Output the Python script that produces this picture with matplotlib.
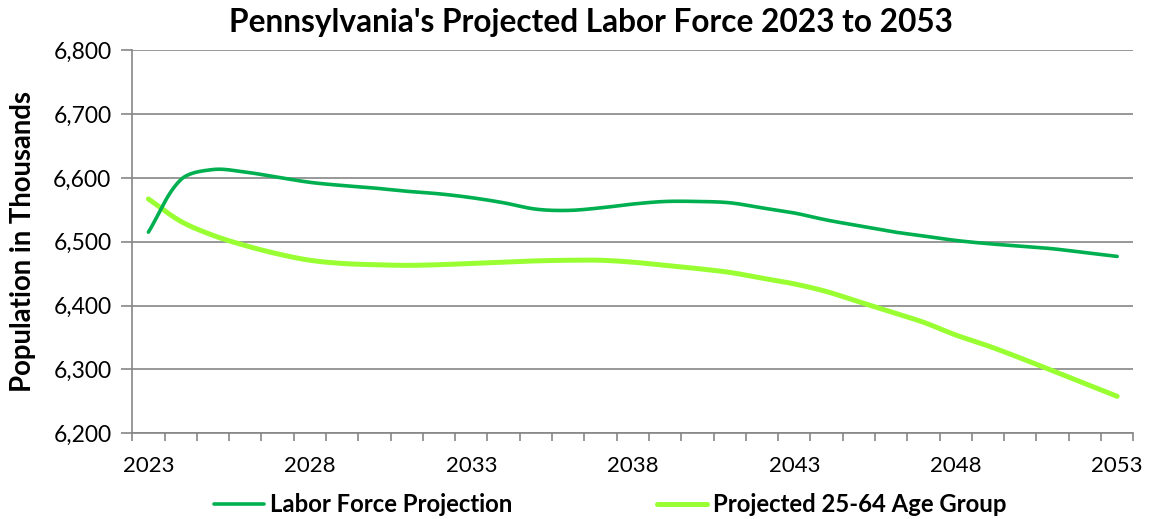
import matplotlib
matplotlib.use("Agg")
import matplotlib.pyplot as plt
import numpy as np
from matplotlib.ticker import FuncFormatter, FixedLocator

plt.rcParams["font.family"] = ["Lato", "DejaVu Sans"]

years = list(range(2023, 2054))
labor_force = [6515, 6597, 6613, 6609, 6601, 6593, 6588, 6584, 6579, 6575,
               6569, 6561, 6551, 6549, 6553, 6559, 6563, 6563, 6561, 6553,
               6545, 6534, 6525, 6516, 6509, 6502, 6497, 6493, 6489, 6483,
               6477]
age_25_64 = [6567, 6532, 6510, 6494, 6481, 6471, 6466, 6464, 6463, 6464,
             6466, 6468, 6470, 6471, 6471, 6468, 6463, 6458, 6452, 6443,
             6434, 6422, 6406, 6390, 6374, 6354, 6337, 6318, 6298, 6278,
             6258]
series_names = ["Labor Force Projection", "Projected 25-64 Age Group"]
year_labels = [2023, 2028, 2033, 2038, 2043, 2048, 2053]

DARK = "#00B050"
LIGHT = "#99FF33"
GRID = "#868686"


def smooth(ax, x, y, steps=24):
    """Smoothed line like a spreadsheet: bezier arms built in screen space,
    shortened on the side of the shorter segment."""
    fig.canvas.draw()
    pts = ax.transData.transform(np.column_stack([x, y]).astype(float))
    n = len(pts)
    f = 1 / 6
    arm_in = np.zeros_like(pts)
    arm_out = np.zeros_like(pts)
    for i in range(n):
        p0 = pts[max(i - 1, 0)]
        p2 = pts[min(i + 1, n - 1)]
        tan = p2 - p0
        d01 = np.hypot(*(pts[i] - p0))
        d12 = np.hypot(*(p2 - pts[i]))
        tot = d01 + d12
        if tot == 0:
            continue
        arm_in[i] = tan * f * 2 * d01 / tot
        arm_out[i] = tan * f * 2 * d12 / tot
    t = np.linspace(0, 1, steps + 1)[1:, None]
    out = [pts[0]]
    for i in range(n - 1):
        p1, p2 = pts[i], pts[i + 1]
        c1 = p1 + arm_out[i]
        c2 = p2 - arm_in[i + 1]
        seg = ((1 - t) ** 3) * p1 + 3 * ((1 - t) ** 2) * t * c1 \
            + 3 * (1 - t) * t ** 2 * c2 + t ** 3 * p2
        out.extend(seg)
    out = ax.transData.inverted().transform(np.array(out))
    return out[:, 0], out[:, 1]


fig = plt.figure(figsize=(11.5, 5.19), dpi=100)
ax = fig.add_axes([0.115, 0.165, 0.8705, 0.7385])

ax.set_xlim(years[0] - 0.5, years[-1] + 0.5)
ax.set_ylim(6200, 6800)

sx, sy = smooth(ax, years, labor_force)
ax.plot(sx, sy, color=DARK, lw=2.6, solid_capstyle="round",
        label=series_names[0], zorder=3)
sx, sy = smooth(ax, years, age_25_64)
ax.plot(sx, sy, color=LIGHT, lw=3.6, solid_capstyle="round",
        label=series_names[1], zorder=2)

ax.set_xlim(years[0] - 0.5, years[-1] + 0.5)
ax.set_ylim(6200, 6800)
ax.set_yticks(np.arange(6200, 6801, 100))
ax.yaxis.set_major_formatter(FuncFormatter(lambda v, p: f"{int(v):,}"))
ax.grid(axis="y", color=GRID, lw=1.2)
ax.set_axisbelow(True)

# tick marks between categories, labels every fifth year
ax.xaxis.set_major_locator(FixedLocator(np.arange(years[0] - 0.5, years[-1] + 1)))
ax.xaxis.set_minor_locator(FixedLocator(year_labels))
ax.tick_params(axis="x", which="major", length=6, width=1.2, color=GRID,
               labelbottom=False)
ax.tick_params(axis="x", which="minor", length=0, labelsize=16, pad=16)
ax.xaxis.set_minor_formatter(FuncFormatter(lambda v, p: f"{int(v)}"))
ax.tick_params(axis="y", length=8, width=1.2, color=GRID, labelsize=16.5, pad=7)

for side in ("top", "right"):
    ax.spines[side].set_visible(False)
for side in ("left", "bottom"):
    ax.spines[side].set_color(GRID)
    ax.spines[side].set_linewidth(1.2)

fig.text(0.5135, 0.957, "Pennsylvania's Projected Labor Force 2023 to 2053",
         ha="center", va="center", fontsize=22.8, fontweight="bold")
fig.text(0.020, 0.535, "Population in Thousands", rotation=90,
         ha="center", va="center", fontsize=19.8, fontweight="bold")

fig.legend(loc="center", bbox_to_anchor=(0.5304, 0.027), ncol=2, frameon=False,
           prop={"size": 17.2, "weight": "bold"}, handlelength=2.1,
           handletextpad=0.25, columnspacing=6.05)

fig.savefig("out.png", dpi=100)
